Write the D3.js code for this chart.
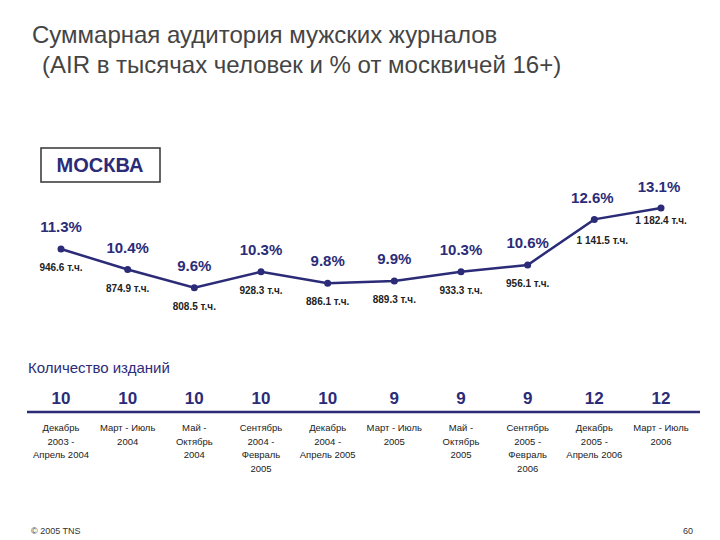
<!DOCTYPE html>
<html><head><meta charset="utf-8">
<script src="https://cdn.jsdelivr.net/npm/d3@7"></script>
<style>body{margin:0;background:#fff;font-family:"Liberation Sans",Arial,sans-serif}</style>
</head><body><svg id="c" width="720" height="540"></svg>
<script>
"use strict";
const periods = [
  ["Декабрь","2003 -","Апрель 2004"],["Март - Июль","2004"],["Май -","Октябрь","2004"],
  ["Сентябрь","2004 -","Февраль","2005"],["Декабрь","2004 -","Апрель 2005"],["Март - Июль","2005"],
  ["Май -","Октябрь","2005"],["Сентябрь","2005 -","Февраль","2006"],["Декабрь","2005 -","Апрель 2006"],["Март - Июль","2006"]
];
const share = [11.3, 10.4, 9.6, 10.3, 9.8, 9.9, 10.3, 10.6, 12.6, 13.1];
const audience = ["946.6", "874.9", "808.5", "928.3", "886.1", "889.3", "933.3", "956.1", "1 141.5", "1 182.4"];
const titles = [10, 10, 10, 10, 10, 9, 9, 9, 12, 12];

const navy = "#2b2b78";
const svg = d3.select("#c");

svg.append("text").attr("x", 32).attr("y", 43).attr("font-size", 24).attr("fill", "#444")
  .text("Суммарная аудитория мужских журналов");
svg.append("text").attr("x", 42).attr("y", 73).attr("font-size", 24).attr("fill", "#444")
  .text("(AIR в тысячах человек и % от москвичей 16+)");

svg.append("rect").attr("x", 41).attr("y", 148).attr("width", 119).attr("height", 34)
  .attr("fill", "none").attr("stroke", "#333").attr("stroke-width", 1.5);
svg.append("text").attr("x", 100).attr("y", 172).attr("text-anchor", "middle")
  .attr("font-size", 20).attr("font-weight", "bold").attr("fill", navy).text("МОСКВА");

const x = d3.scalePoint().domain(d3.range(share.length)).range([61, 661]);
const y = d3.scaleLinear().domain([9.5, 13.1]).range([290, 208]);

svg.append("path").datum(share)
  .attr("d", d3.line().x((d, i) => x(i)).y(d => y(d)))
  .attr("fill", "none").attr("stroke", navy).attr("stroke-width", 2.5);
svg.selectAll("circle").data(share).join("circle")
  .attr("cx", (d, i) => x(i)).attr("cy", d => y(d)).attr("r", 3.5).attr("fill", navy);

svg.selectAll("text.pct").data(share).join("text").attr("class", "pct")
  .attr("x", (d, i) => x(i) + (i >= 8 ? -2 : 0))
  .attr("y", (d, i) => y(d) - (i >= 8 ? 16 : 17))
  .attr("text-anchor", "middle").attr("font-size", 15).attr("font-weight", "bold").attr("fill", navy)
  .text(d => d.toFixed(1) + "%");
svg.selectAll("text.aud").data(audience).join("text").attr("class", "aud")
  .attr("x", (d, i) => x(i) + (i === 8 ? 8 : 0))
  .attr("y", (d, i) => y(share[i]) + (i === 8 ? 25 : i === 9 ? 16 : 22))
  .attr("text-anchor", "middle").attr("font-size", 10).attr("font-weight", "bold").attr("fill", "#222")
  .text(d => d + " т.ч.");

svg.append("text").attr("x", 28).attr("y", 373).attr("font-size", 15).attr("fill", navy)
  .text("Количество изданий");
svg.selectAll("text.cnt").data(titles).join("text").attr("class", "cnt")
  .attr("x", (d, i) => x(i)).attr("y", 404).attr("text-anchor", "middle")
  .attr("font-size", 17).attr("font-weight", "bold").attr("fill", navy).text(d => d);
svg.append("line").attr("x1", 27).attr("x2", 700).attr("y1", 412).attr("y2", 412)
  .attr("stroke", navy).attr("stroke-width", 2.5);
const pg = svg.selectAll("text.per").data(periods).join("text").attr("class", "per")
  .attr("text-anchor", "middle").attr("font-size", 9.5).attr("fill", "#222");
pg.selectAll("tspan").data((d, i) => d.map(s => [s, i])).join("tspan")
  .attr("x", d => x(d[1])).attr("y", (d, j) => 431 + j * 13.5).text(d => d[0]);

svg.append("text").attr("x", 31).attr("y", 534).attr("font-size", 9).attr("fill", "#333").text("© 2005 TNS");
svg.append("text").attr("x", 693).attr("y", 534).attr("text-anchor", "end").attr("font-size", 9).attr("fill", "#333").text("60");
</script></body></html>
